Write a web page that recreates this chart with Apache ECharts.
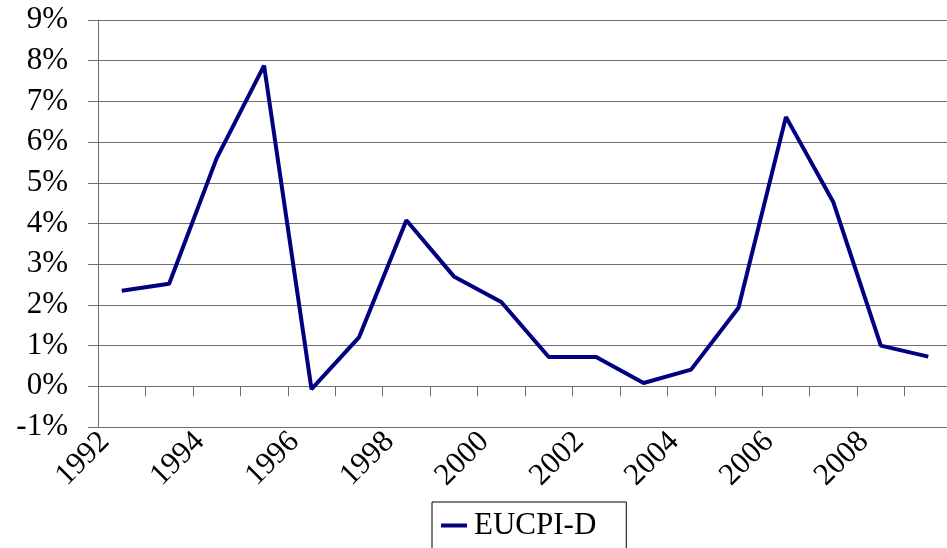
<!DOCTYPE html>
<html lang="en">
<head>
    <meta charset="UTF-8">
    <title>EUCPI-D</title>
    <script src="https://cdn.jsdelivr.net/npm/echarts@6/dist/echarts.min.js"></script>
    <style type="text/css">
        html, body {
            margin: 0;
            width: 100%;
            height: 100%;
            background-color: #fff;
        }
        #chart {
            width: 947px;
            height: 548px;
        }
    </style>
</head>
<body>
    <div id="chart"></div>
    <script type="text/javascript">
        // categories (years) and yearly values in %
        var years = ['1992', '1993', '1994', '1995', '1996', '1997', '1998', '1999', '2000',
                     '2001', '2002', '2003', '2004', '2005', '2006', '2007', '2008', '2009'];
        var eucpiD = [2.35, 2.52, 5.6, 7.88, -0.07, 1.2, 4.08, 2.7, 2.07,
                      0.72, 0.72, 0.08, 0.41, 1.93, 6.62, 4.52, 1.0, 0.73];
        var seriesName = 'EUCPI-D';

        var chartDom = document.getElementById('chart');
        var myChart = echarts.init(chartDom);
        var font = 'Liberation Serif';

        var option = {
            animation: false,
            backgroundColor: '#fff',
            grid: {
                left: 98,
                right: -5,
                top: 20,
                bottom: 121,
                outerBoundsMode: 'none'
            },
            legend: {
                data: [seriesName],
                left: 432,
                top: 502,
                padding: [8, 30, 8, 9],
                borderColor: '#000',
                borderWidth: 1,
                borderRadius: 0,
                icon: 'rect',
                itemWidth: 26,
                itemHeight: 4,
                itemGap: 0,
                textStyle: {
                    fontFamily: font,
                    fontSize: 31,
                    color: '#000',
                    padding: [0, 0, 0, 2]
                }
            },
            xAxis: [
                {
                    // labels along the bottom
                    type: 'category',
                    data: years,
                    position: 'bottom',
                    boundaryGap: true,
                    axisLine: { show: false, onZero: false },
                    axisTick: { show: false },
                    axisLabel: {
                        interval: 1,
                        rotate: 45,
                        margin: -7,
                        padding: [0, 24, 0, 0],
                        fontFamily: font,
                        fontSize: 31,
                        color: '#000'
                    },
                    splitLine: { show: false }
                },
                {
                    // axis line and ticks crossing at 0%
                    type: 'category',
                    data: years,
                    position: 'top',
                    boundaryGap: true,
                    axisLine: {
                        show: true,
                        onZero: true,
                        lineStyle: { color: '#6e6e6e', width: 1 }
                    },
                    axisTick: {
                        show: true,
                        inside: true,
                        interval: 0,
                        length: 10,
                        lineStyle: { color: '#6e6e6e', width: 1 }
                    },
                    axisLabel: { show: false },
                    splitLine: { show: false }
                }
            ],
            yAxis: {
                type: 'value',
                min: -1,
                max: 9,
                interval: 1,
                axisLine: {
                    show: true,
                    lineStyle: { color: '#6e6e6e', width: 1 }
                },
                axisTick: {
                    show: true,
                    length: 10,
                    lineStyle: { color: '#6e6e6e', width: 1 }
                },
                axisLabel: {
                    formatter: '{value}%',
                    margin: 30,
                    fontFamily: font,
                    fontSize: 31,
                    color: '#000'
                },
                splitLine: {
                    show: true,
                    lineStyle: { color: '#6e6e6e', width: 1 }
                }
            },
            series: [
                {
                    name: seriesName,
                    type: 'line',
                    xAxisIndex: 0,
                    data: eucpiD,
                    symbol: 'none',
                    color: '#000080',
                    lineStyle: { color: '#000080', width: 4 }
                }
            ]
        };

        myChart.setOption(option);
    </script>
</body>
</html>
